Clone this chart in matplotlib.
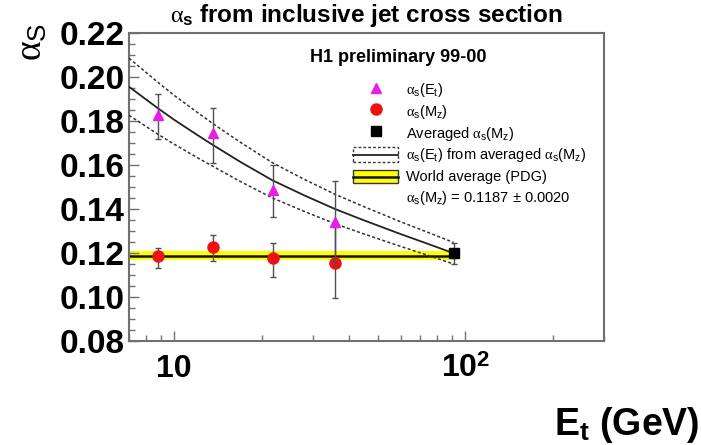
import matplotlib
matplotlib.use("Agg")
import matplotlib.pyplot as plt
from matplotlib.lines import Line2D
from matplotlib.patches import Rectangle
from matplotlib.legend_handler import HandlerBase
from matplotlib.ticker import LogLocator, FuncFormatter, NullFormatter, MultipleLocator

plt.rcParams["font.family"] = "Liberation Sans"
plt.rcParams["mathtext.fontset"] = "custom"
plt.rcParams["mathtext.rm"] = "Liberation Sans"
plt.rcParams["mathtext.bf"] = "Liberation Sans:bold"
plt.rcParams["mathtext.it"] = "Liberation Serif"

# alpha_s(Et) measured points
et = [8.8, 13.6, 21.8, 35.7]
alpha_et = [0.1827, 0.1744, 0.1486, 0.1342]
alpha_et_up = [0.0094, 0.0114, 0.0114, 0.0187]
alpha_et_dn = [0.0110, 0.0136, 0.0124, 0.0187]

# alpha_s(Mz) evolved points
alpha_mz = [0.1186, 0.1229, 0.1176, 0.1156]
alpha_mz_up = [0.0038, 0.0054, 0.0068, 0.0162]
alpha_mz_dn = [0.0053, 0.0067, 0.0085, 0.0162]

# averaged alpha_s(Mz)
mz = [91.2]
alpha_avg = [0.1199]
alpha_avg_err = [0.0048]

# alpha_s(Et) curve from averaged value
curve_et = [7, 8.8, 10, 12, 13.6, 17, 21.8, 28, 35.7, 45, 60, 75, 91.2]
curve_mid = [0.1956, 0.1858, 0.1806, 0.1737, 0.1691, 0.1612, 0.1530, 0.1462,
             0.1400, 0.1348, 0.1286, 0.1240, 0.1199]
curve_hi = [0.2086, 0.1976, 0.1917, 0.1840, 0.1788, 0.1701, 0.1610, 0.1535,
            0.1467, 0.1410, 0.1342, 0.1292, 0.1248]
curve_lo = [0.1826, 0.1740, 0.1695, 0.1634, 0.1594, 0.1523, 0.1450, 0.1389,
            0.1333, 0.1286, 0.1230, 0.1188, 0.1150]

# world average (PDG)
wa_x = [7, 94]
wa_val = 0.1187
wa_err = 0.0020

MAGENTA = "#e81ee8"
RED = "#ee1111"
GRAY = "#707070"
ERR = "#505050"


class BandHandler(HandlerBase):
    def create_artists(self, legend, orig_handle, xdescent, ydescent,
                       width, height, fontsize, trans):
        y0 = -ydescent + 0.08 * height
        h = 0.84 * height
        box = Rectangle((-xdescent, y0), width, h, facecolor="none",
                        edgecolor="#333333", linestyle=(0, (2, 1.5)), lw=1.0,
                        transform=trans)
        mid = Line2D([-xdescent, -xdescent + width], [y0 + h / 2] * 2,
                     color="#222222", lw=1.3, transform=trans)
        return [box, mid]


class YellowHandler(HandlerBase):
    def create_artists(self, legend, orig_handle, xdescent, ydescent,
                       width, height, fontsize, trans):
        y0 = -ydescent + 0.1 * height
        h = 0.75 * height
        box = Rectangle((-xdescent, y0), width, h, facecolor="#ffff00",
                        edgecolor="#333333", lw=1.0, transform=trans)
        mid = Line2D([-xdescent, -xdescent + width], [y0 + h / 2] * 2,
                     color="#111111", lw=1.8, transform=trans)
        return [box, mid]


class BandKey:
    pass


class YellowKey:
    pass


fig = plt.figure(figsize=(7.01, 4.45), dpi=100)
ax = fig.add_axes([0.184, 0.2337, 0.678, 0.692])

# world average band
ax.fill_between(wa_x, [wa_val - wa_err] * 2, [wa_val + wa_err] * 2,
                color="#ffff00", lw=0, zorder=1)
ax.plot(wa_x, [wa_val] * 2, color="#111111", lw=1.8, zorder=2)

# curves
ax.plot(curve_et, curve_mid, color="#222222", lw=1.3, zorder=3)
ax.plot(curve_et, curve_hi, color="#333333", lw=1.1, ls=(0, (2, 1.5)), zorder=3)
ax.plot(curve_et, curve_lo, color="#333333", lw=1.1, ls=(0, (2, 1.5)), zorder=3)

ax.errorbar(et, alpha_mz, yerr=[alpha_mz_dn, alpha_mz_up], fmt="o", color=RED,
            ms=8, ecolor=ERR, elinewidth=1.0, capsize=2.5, capthick=1.0, zorder=4)
ax.errorbar(et, alpha_et, yerr=[alpha_et_dn, alpha_et_up], fmt="^", color=MAGENTA,
            ms=7.5, ecolor=ERR, elinewidth=1.0, capsize=2.5, capthick=1.0, zorder=5)
ax.errorbar(mz, alpha_avg, yerr=alpha_avg_err, fmt="s", color="black",
            ms=7, ecolor=ERR, elinewidth=1.0, capsize=2.5, capthick=1.0, zorder=5)

ax.set_xscale("log")
ax.set_xlim(7, 300)
ax.set_ylim(0.08, 0.22)

ax.xaxis.set_major_locator(LogLocator(base=10))
ax.xaxis.set_minor_locator(LogLocator(base=10, subs=range(2, 10)))
ax.xaxis.set_major_formatter(FuncFormatter(
    lambda v, p: "10" if abs(v - 10) < 1e-6 else r"10$^\mathbf{2}$"))
ax.xaxis.set_minor_formatter(NullFormatter())
ax.yaxis.set_major_locator(MultipleLocator(0.02))
ax.yaxis.set_minor_locator(MultipleLocator(0.005))
ax.yaxis.set_major_formatter(FuncFormatter(lambda v, p: f"{v:.2f}"))

ax.tick_params(which="both", direction="in", top=False, right=False, color=GRAY,
               width=1.0)
ax.tick_params(which="major", length=7.5)
ax.tick_params(which="minor", length=4.5)
ax.tick_params(axis="y", labelsize=24, pad=3)
ax.tick_params(axis="x", labelsize=23, pad=9)
for lab in ax.get_xticklabels() + ax.get_yticklabels():
    lab.set_fontweight("bold")
for sp in ax.spines.values():
    sp.set_color(GRAY)
    sp.set_linewidth(1.5)

ax.text(0.566, 0.92, "H1 preliminary 99-00", transform=ax.transAxes,
        ha="center", va="center", fontsize=13, fontweight="bold")

handles = [
    Line2D([], [], marker="^", color=MAGENTA, ls="none", ms=7.5),
    Line2D([], [], marker="o", color=RED, ls="none", ms=8),
    Line2D([], [], marker="s", color="black", ls="none", ms=7),
    BandKey(),
    YellowKey(),
    Line2D([], [], ls="none"),
]
labels = [
    r"$\alpha_\mathrm{s}$(E$_\mathrm{t}$)",
    r"$\alpha_\mathrm{s}$(M$_\mathrm{z}$)",
    r"Averaged $\alpha_\mathrm{s}$(M$_\mathrm{z}$)",
    r"$\alpha_\mathrm{s}$(E$_\mathrm{t}$) from averaged $\alpha_\mathrm{s}$(M$_\mathrm{z}$)",
    "World average (PDG)",
    r"$\alpha_\mathrm{s}$(M$_\mathrm{z}$) = 0.1187 ± 0.0020",
]
ax.legend(handles, labels, loc="upper left", bbox_to_anchor=(0.4716, 0.845),
          frameon=False, fontsize=10.5, handlelength=3.1, handleheight=1.45,
          handletextpad=0.55, labelspacing=0.22, borderpad=0, borderaxespad=0,
          handler_map={BandKey: BandHandler(), YellowKey: YellowHandler()})

fig.text(0.523, 0.965, r"$\alpha_\mathbf{s}$ from inclusive jet cross section",
         ha="center", va="center", fontsize=17.5, fontweight="bold")
fig.text(0.045, 0.905, r"$\alpha_\mathrm{S}$", rotation=90, ha="center",
         va="center", fontsize=27)
fig.text(0.998, 0.045, r"E$_\mathbf{t}$ (GeV)", ha="right", va="center",
         fontsize=27, fontweight="bold")

fig.savefig("out.png", dpi=100)
